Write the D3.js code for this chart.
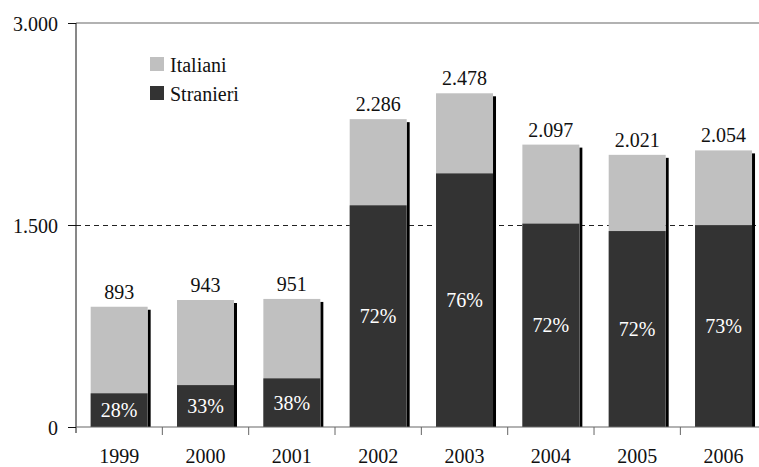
<!DOCTYPE html>
<html>
<head>
<meta charset="utf-8">
<script src="https://cdn.jsdelivr.net/npm/d3@7"></script>
<style>
  body { margin: 0; background: #fff; }
  svg text { font-family: "Liberation Serif", "Times New Roman", serif; }
</style>
</head>
<body>
<div id="chart"></div>
<script>
// data
const years = ["1999", "2000", "2001", "2002", "2003", "2004", "2005", "2006"];
const totals = [893, 943, 951, 2286, 2478, 2097, 2021, 2054];
const stranieri = [250, 311, 361, 1646, 1883, 1510, 1455, 1499];
const percentLabels = ["28%", "33%", "38%", "72%", "76%", "72%", "72%", "73%"];
const yTicks = [0, 1500, 3000];

const width = 759, height = 467;
const plotLeft = 76, plotRight = 766.7, plotTop = 23, plotBottom = 427;
const fontSize = 20;

const svg = d3.select("#chart").append("svg")
    .attr("width", width)
    .attr("height", height)
    .attr("font-family", "'Liberation Serif', serif");

const x = d3.scaleBand()
    .domain(years)
    .range([plotLeft, plotRight])
    .paddingInner(0.34)
    .paddingOuter(0.17);

const y = d3.scaleLinear()
    .domain([0, 3000])
    .range([plotBottom, plotTop]);

const fmt = d3.formatLocale({ decimal: ",", thousands: ".", grouping: [3], currency: ["", "€"] }).format(",d");

// top line at 3.000 and dashed line at 1.500
svg.append("line")
    .attr("x1", plotLeft).attr("x2", plotRight)
    .attr("y1", y(3000)).attr("y2", y(3000))
    .attr("stroke", "#666").attr("stroke-width", 1.2);

svg.append("line")
    .attr("x1", plotLeft).attr("x2", plotRight)
    .attr("y1", y(1500) + 0.5).attr("y2", y(1500) + 0.5)
    .attr("stroke", "#222").attr("stroke-width", 1)
    .attr("stroke-dasharray", "5,4");

const bars = svg.append("g").selectAll("g")
    .data(years)
    .join("g");

// little shadow on the right of each bar
bars.append("rect")
    .attr("x", d => x(d) + x.bandwidth())
    .attr("y", (d, i) => y(totals[i]) + 3)
    .attr("width", 3)
    .attr("height", (d, i) => plotBottom - y(totals[i]) - 3)
    .attr("fill", "#000");

bars.append("rect")
    .attr("x", d => x(d))
    .attr("y", (d, i) => y(totals[i]))
    .attr("width", x.bandwidth())
    .attr("height", (d, i) => plotBottom - y(totals[i]))
    .attr("fill", "#c0c0c0");

bars.append("rect")
    .attr("x", d => x(d))
    .attr("y", (d, i) => y(stranieri[i]))
    .attr("width", x.bandwidth())
    .attr("height", (d, i) => plotBottom - y(stranieri[i]))
    .attr("fill", "#333");

bars.append("text")
    .attr("x", d => x(d) + x.bandwidth() / 2)
    .attr("y", (d, i) => y(totals[i]) - 8)
    .attr("text-anchor", "middle")
    .attr("font-size", fontSize)
    .attr("fill", "#111")
    .text((d, i) => fmt(totals[i]));

bars.append("text")
    .attr("x", d => x(d) + x.bandwidth() / 2)
    .attr("y", (d, i) => (y(stranieri[i]) + plotBottom) / 2)
    .attr("dy", "0.35em")
    .attr("text-anchor", "middle")
    .attr("font-size", fontSize)
    .attr("fill", "#fff")
    .text((d, i) => percentLabels[i]);

// y axis
const yAxis = svg.append("g")
    .attr("transform", `translate(${plotLeft},0)`)
    .call(d3.axisLeft(y).tickValues(yTicks).tickSize(8).tickPadding(10).tickFormat(fmt));
yAxis.attr("font-family", null).attr("font-size", null);
yAxis.select(".domain").attr("stroke", "#111").attr("d", `M0,${plotTop}V${plotBottom + 6}`);
yAxis.selectAll(".tick line").attr("stroke", "#111");
yAxis.selectAll("text")
    .attr("font-size", fontSize)
    .attr("fill", "#111")
    .attr("dy", "0.38em");

// x axis: line plus ticks between categories
svg.append("line")
    .attr("x1", plotLeft).attr("x2", plotRight)
    .attr("y1", plotBottom).attr("y2", plotBottom)
    .attr("stroke", "#666").attr("stroke-width", 1.2);

svg.append("g").selectAll("line")
    .data(years.slice(1))
    .join("line")
    .attr("x1", d => x(d) - x.step() * x.paddingInner() / 2)
    .attr("x2", d => x(d) - x.step() * x.paddingInner() / 2)
    .attr("y1", plotBottom)
    .attr("y2", plotBottom + 8)
    .attr("stroke", "#666");

svg.append("g").selectAll("text")
    .data(years)
    .join("text")
    .attr("x", d => x(d) + x.bandwidth() / 2)
    .attr("y", plotBottom + 36)
    .attr("text-anchor", "middle")
    .attr("font-size", fontSize)
    .attr("fill", "#111")
    .text(d => d);

// legend
const legend = [["Italiani", "#c0c0c0"], ["Stranieri", "#333"]];
const lg = svg.append("g").selectAll("g")
    .data(legend)
    .join("g")
    .attr("transform", (d, i) => `translate(150,${57 + i * 29})`);
lg.append("rect")
    .attr("width", 14).attr("height", 14)
    .attr("fill", d => d[1]);
lg.append("text")
    .attr("x", 20).attr("y", 15)
    .attr("font-size", fontSize)
    .attr("fill", "#111")
    .text(d => d[0]);
</script>
</body>
</html>
